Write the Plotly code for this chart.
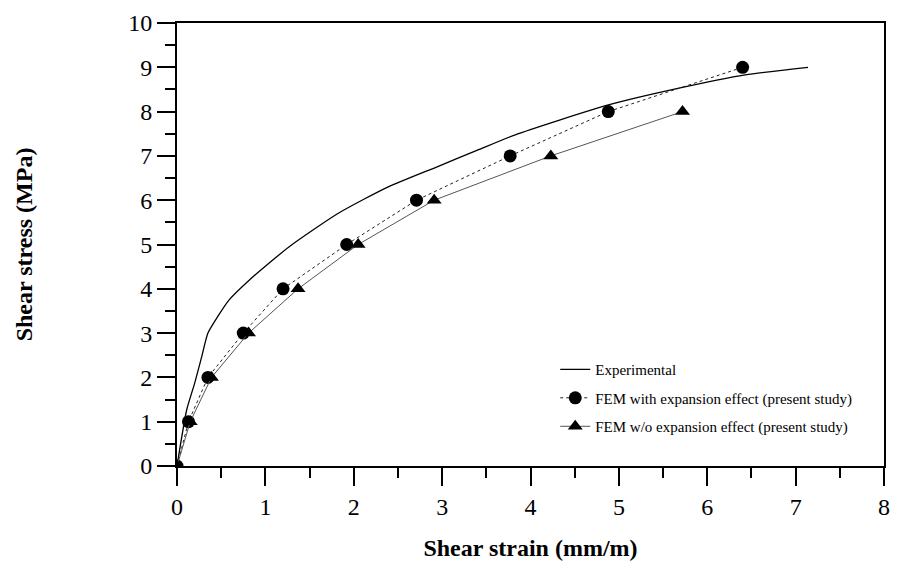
import plotly.graph_objects as go

# Experimental curve
exp_x = [0, 0.11, 0.2, 0.28, 0.35, 0.46, 0.59, 0.82, 1.27, 1.83, 2.39, 2.95, 3.4, 3.82, 4.88, 5.68, 6.43, 7.14]
exp_y = [0, 1.27, 1.87, 2.47, 3.0, 3.37, 3.75, 4.2, 4.95, 5.71, 6.3, 6.76, 7.13, 7.47, 8.15, 8.53, 8.83, 9.0]

# FEM with expansion effect
fem_w_x = [0, 0.13, 0.35, 0.75, 1.2, 1.92, 2.71, 3.77, 4.88, 6.4]
fem_w_y = [0, 1, 2, 3, 4, 5, 6, 7, 8, 9]

# FEM without expansion effect
fem_wo_x = [0, 0.15, 0.39, 0.81, 1.37, 2.05, 2.91, 4.23, 5.72]
fem_wo_y = [0, 1, 2, 3, 4, 5, 6, 7, 8]

FONT = "Liberation Serif, Times New Roman, serif"

fig = go.Figure()
fig.add_trace(go.Scatter(
    x=exp_x, y=exp_y, mode="lines", name="Experimental",
    line=dict(color="black", width=1.3, shape="spline", smoothing=0.6),
    legendgroup="a"))
fig.add_trace(go.Scatter(
    x=fem_w_x, y=fem_w_y, mode="lines+markers",
    name="FEM with expansion effect (present study)",
    line=dict(color="#222", width=1, dash="dot"),
    marker=dict(symbol="circle", size=13, color="black"),
    legendgroup="b"))
fig.add_trace(go.Scatter(
    x=fem_wo_x, y=fem_wo_y, mode="lines+markers",
    name="FEM w/o expansion effect (present study)",
    line=dict(color="#555", width=1),
    marker=dict(symbol="triangle-up", size=13, color="black"),
    legendgroup="c"))

axis_common = dict(
    showline=True, linecolor="black", linewidth=2, mirror=True,
    ticks="outside", ticklen=18, tickwidth=2, tickcolor="black",
    showgrid=False, zeroline=False,
    tickfont=dict(family=FONT, size=24, color="black"),
)

fig.update_xaxes(
    range=[0, 8], dtick=1, tick0=0,
    minor=dict(ticks="outside", ticklen=10, tickwidth=2, tickcolor="black", dtick=0.5, showgrid=False),
    title=dict(text="<b>Shear strain (mm/m)</b>", font=dict(family=FONT, size=24, color="black"), standoff=20),
    **axis_common)
fig.update_yaxes(
    range=[0, 10], dtick=1, tick0=0,
    minor=dict(ticks="outside", ticklen=10, tickwidth=2, tickcolor="black", dtick=0.5, showgrid=False),
    title=dict(text="<b>Shear stress (MPa)</b>", font=dict(family=FONT, size=24, color="black"), standoff=89),
    **axis_common)

fig.update_layout(
    width=897, height=568,
    margin=dict(l=177, r=7, t=23, b=102),
    plot_bgcolor="white", paper_bgcolor="white",
    font=dict(family=FONT, color="black"),
    legend=dict(
        x=0.535, y=0.255, xanchor="left", yanchor="top",
        font=dict(family=FONT, size=15, color="black"),
        bgcolor="rgba(0,0,0,0)", traceorder="grouped", tracegroupgap=6,
    ),
)

fig.write_html("out.html")
